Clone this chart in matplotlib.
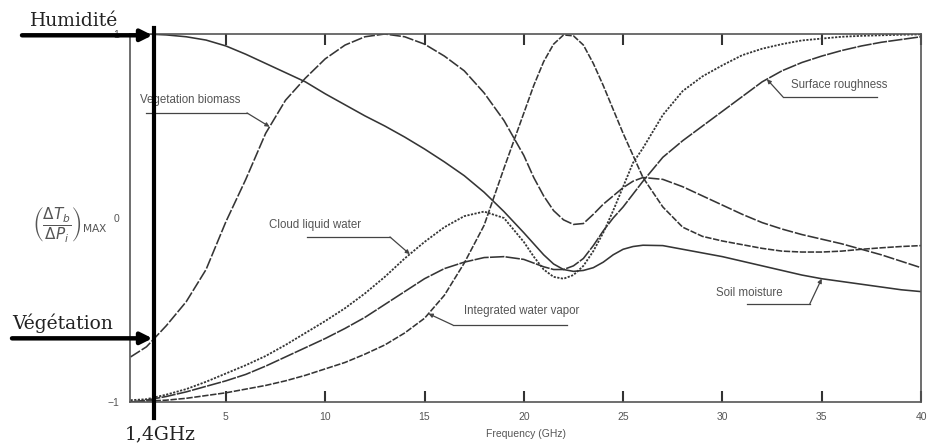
import numpy as np
import matplotlib
matplotlib.use("Agg")
import matplotlib.pyplot as plt
import matplotlib.transforms as mtransforms

# ---------------- data ----------------
freq = [0.2, 1, 2, 3, 4, 5, 6, 7, 8, 9, 10, 11, 12, 13, 14, 15, 16, 17, 18, 19,
        20, 20.5, 21, 21.5, 22, 22.5, 23, 23.5, 24, 24.5, 25, 25.5, 26, 27, 28,
        29, 30, 31, 32, 33, 34, 35, 36, 37, 38, 39, 40]

soil_moisture = [1.0, 1.0, 0.995, 0.985, 0.967, 0.935, 0.89, 0.84, 0.79, 0.74,
                 0.675, 0.615, 0.555, 0.50, 0.44, 0.375, 0.305, 0.23, 0.14, 0.035,
                 -0.08, -0.14, -0.2, -0.25, -0.28, -0.29, -0.285, -0.27, -0.24, -0.2,
                 -0.17, -0.155, -0.148, -0.15, -0.17, -0.19, -0.21, -0.235, -0.26,
                 -0.285, -0.31, -0.33, -0.345, -0.36, -0.375, -0.39, -0.40]

vegetation_biomass = [-0.755, -0.70, -0.585, -0.455, -0.28, -0.02, 0.21, 0.46, 0.64,
                      0.76, 0.865, 0.94, 0.985, 1.0, 0.985, 0.945, 0.88, 0.80, 0.68,
                      0.53, 0.34, 0.22, 0.12, 0.04, -0.01, -0.035, -0.03, 0.02, 0.075,
                      0.12, 0.165, 0.2, 0.22, 0.21, 0.17, 0.12, 0.07, 0.02, -0.025,
                      -0.06, -0.09, -0.115, -0.14, -0.17, -0.2, -0.235, -0.27]

cloud_liquid_water = [-0.99, -0.985, -0.96, -0.93, -0.89, -0.845, -0.8, -0.75, -0.69,
                      -0.625, -0.56, -0.49, -0.41, -0.32, -0.22, -0.13, -0.05, 0.01,
                      0.035, 0.0, -0.13, -0.21, -0.28, -0.32, -0.33, -0.31, -0.26,
                      -0.18, -0.08, 0.04, 0.17, 0.3, 0.38, 0.56, 0.69, 0.77, 0.83,
                      0.885, 0.92, 0.945, 0.965, 0.975, 0.985, 0.99, 0.993, 0.996, 0.998]

surface_roughness = [-1.0, -0.99, -0.97, -0.945, -0.915, -0.885, -0.85, -0.805, -0.755,
                     -0.705, -0.655, -0.60, -0.54, -0.47, -0.40, -0.33, -0.275, -0.24,
                     -0.215, -0.21, -0.225, -0.245, -0.265, -0.28, -0.28, -0.26, -0.22,
                     -0.15, -0.07, 0.0, 0.06, 0.13, 0.2, 0.33, 0.42, 0.50, 0.58, 0.66,
                     0.74, 0.80, 0.845, 0.88, 0.91, 0.935, 0.955, 0.97, 0.985]

water_vapor = [-1.0, -0.995, -0.99, -0.98, -0.965, -0.95, -0.93, -0.91, -0.885, -0.855,
               -0.82, -0.785, -0.74, -0.69, -0.625, -0.545, -0.42, -0.245, -0.04, 0.27,
               0.57, 0.72, 0.85, 0.945, 0.995, 0.99, 0.94, 0.84, 0.72, 0.59, 0.46, 0.34,
               0.22, 0.06, -0.05, -0.1, -0.125, -0.145, -0.165, -0.18, -0.185, -0.185,
               -0.18, -0.17, -0.162, -0.155, -0.15]

xticks = [5, 10, 15, 20, 25, 30, 35, 40]
yticks = [-1, 0, 1]
ytick_labels = ["\u22121", "0", "1"]
marked_freq = 1.4

# ---------------- figure ----------------
W, H = 927, 446
fig = plt.figure(figsize=(W / 100, H / 100), dpi=100)
ax = fig.add_axes([130 / W, 44 / H, (921 - 130) / W, (402 - 34) / H])

gray = "#555555"
curve_col = "#353535"
lw = 1.15
ax.plot(freq, soil_moisture, color=curve_col, lw=lw, ls="-")
ax.plot(freq, vegetation_biomass, color=curve_col, lw=lw, ls=(0, (7, 1.2)))
ax.plot(freq, cloud_liquid_water, color=curve_col, lw=1.3, ls=(0, (1.2, 0.8)))
ax.plot(freq, surface_roughness, color=curve_col, lw=lw, ls=(0, (9, 0.8)))
ax.plot(freq, water_vapor, color=curve_col, lw=lw, ls=(0, (4, 1)))

ax.set_xlim(0.17, 40)
ax.set_ylim(-1, 1)
for sp in ax.spines.values():
    sp.set_color(gray)
    sp.set_linewidth(1.2)

ax.set_xticks(xticks)
ax.set_xticklabels([str(t) for t in xticks])
ax.set_yticks(yticks)
ax.set_yticklabels(ytick_labels)
ax.tick_params(axis="x", direction="in", top=True, length=8, width=1.5,
               color="#333333", labelsize=7.5, labelcolor=gray, pad=7)
ax.tick_params(axis="y", length=0, labelsize=7.5, labelcolor=gray, pad=8)
for lab in ax.get_xticklabels() + ax.get_yticklabels():
    lab.set_family("Liberation Sans")
ax.set_xlabel("Frequency (GHz)", fontsize=7.5, color=gray, labelpad=5,
              family="Liberation Sans")

# y label (math)
fig.text(70 / W, 1 - 224 / H,
         r"$\left(\dfrac{\Delta T_b}{\Delta P_i}\right)_{\mathrm{MAX}}$",
         fontsize=11, color=gray, ha="center", va="center")

# ---------------- curve labels with leaders ----------------
lab_kw = dict(fontsize=8.3, color=gray, family="Liberation Sans",
              ha="center", va="center")
lead_kw = dict(color="#444444", lw=0.9)
arr_kw = dict(arrowstyle="-|>", color="#444444", lw=0.9, mutation_scale=6,
              shrinkA=0, shrinkB=0)


def leader(series, x_from, x_to, y_line, x_tip):
    """underline from x_from to x_to at y_line, then arrow onto the curve at x_tip"""
    ax.plot([x_from, x_to], [y_line, y_line], clip_on=False, **lead_kw)
    y_tip = np.interp(x_tip, freq, series)
    ax.annotate("", xy=(x_tip, y_tip), xytext=(x_to, y_line), arrowprops=arr_kw)


ax.text(3.19, 0.641, "Vegetation biomass", **lab_kw)
leader(vegetation_biomass, 1.0, 6.06, 0.571, 7.2)

ax.text(9.48, -0.038, "Cloud liquid water", **lab_kw)
leader(cloud_liquid_water, 9.08, 13.26, -0.103, 14.26)

ax.text(19.9, -0.505, "Integrated water vapor", **lab_kw)
leader(water_vapor, 22.17, 16.43, -0.582, 15.2)

ax.text(35.87, 0.723, "Surface roughness", **lab_kw)
leader(surface_roughness, 37.78, 33.05, 0.658, 32.24)

ax.text(31.38, -0.408, "Soil moisture", **lab_kw)
leader(soil_moisture, 31.23, 34.4, -0.467, 35.0)

# ---------------- thick black overlays ----------------
ax.axvline(marked_freq, ymin=(402 - 418) / 368, ymax=(402 - 28) / 368,
           color="black", lw=3, clip_on=False, zorder=5)

blend = mtransforms.blended_transform_factory(fig.transFigure, ax.transData)
big_arrow = dict(arrowstyle="-|>", color="black", lw=3.2, mutation_scale=17,
                 shrinkA=0, shrinkB=0)
hum_y = np.interp(marked_freq, freq, soil_moisture) - 0.005
veg_y = np.interp(marked_freq, freq, vegetation_biomass)
ax.annotate("", xy=(marked_freq - 0.1, hum_y), xycoords="data",
            xytext=(22 / W, hum_y), textcoords=blend,
            arrowprops=big_arrow, annotation_clip=False, zorder=6)
ax.annotate("", xy=(marked_freq - 0.1, veg_y), xycoords="data",
            xytext=(12 / W, veg_y), textcoords=blend,
            arrowprops=big_arrow, annotation_clip=False, zorder=6)

serif = dict(family="DejaVu Serif", fontsize=13.5, color="#222222")
fig.text(30 / W, 1 - 26 / H, "Humidité", va="baseline", ha="left", **serif)
fig.text(12 / W, 1 - 329 / H, "Végétation", va="baseline", ha="left", **serif)
fig.text(160 / W, 1 - 439 / H, "1,4GHz", va="baseline", ha="center", **serif)

fig.savefig("out.png", dpi=100)
